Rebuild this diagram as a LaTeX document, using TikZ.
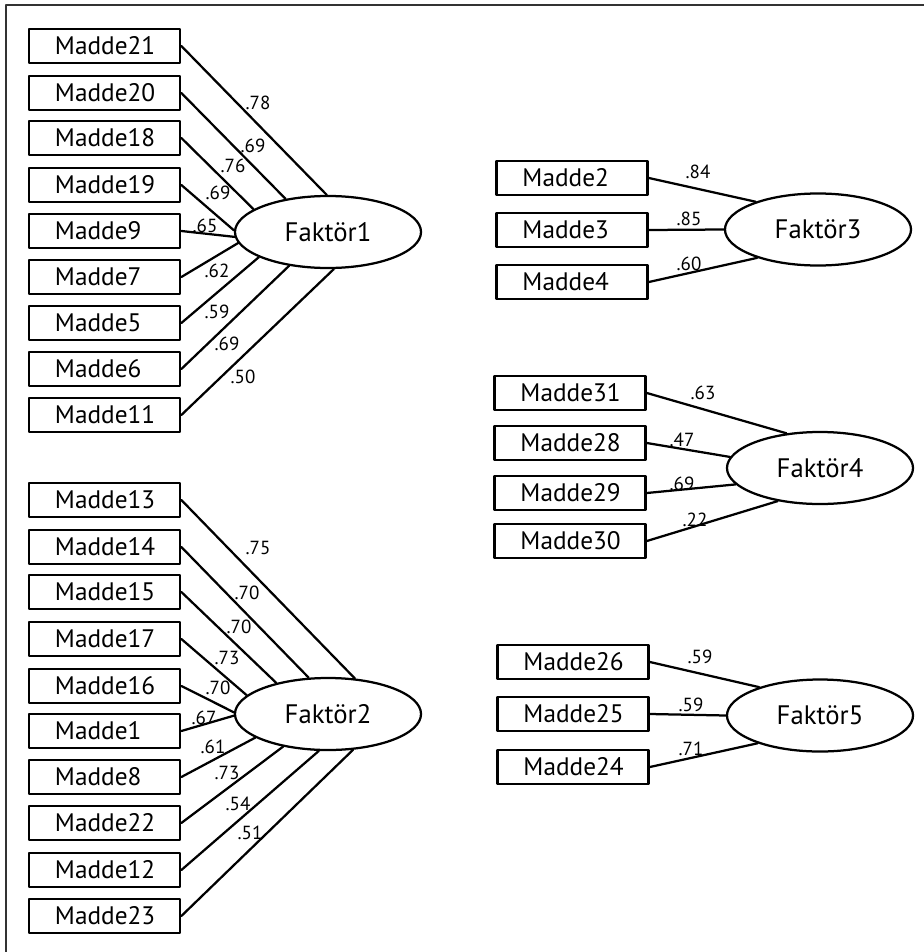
\documentclass[tikz,border=0pt]{standalone}
\usepackage{fontspec}
\setmainfont{PT Sans}
\usetikzlibrary{shapes.geometric}

\begin{document}
\begin{tikzpicture}[x=0.025cm, y=-0.025cm, line join=round, line cap=round,
		madde/.style={draw, line width=1.9pt, minimum height=0.85cm, text width=2.475cm, inner xsep=0.65cm, inner ysep=0pt, align=left, font=\fontsize{18}{20}\selectfont},
		faktor/.style={draw, ellipse, line width=1.6pt, minimum width=4.65cm, minimum height=1.8cm, inner sep=0pt, font=\fontsize{19}{21}\selectfont},
		yuk/.style={inner sep=1pt, font=\fontsize{13.5}{15}\selectfont},
		bag/.style={line width=1.6pt}]
		\useasboundingbox (0,0) rectangle (924,952);
		\draw[line width=0.9pt, black!80] (6,952)--(6,5)--(924,5);
		% faktorler
		\node[faktor] (f1) at (328,232) {Faktör1};
		\node[faktor] (f2) at (328,714) {Faktör2};
		\node[faktor] (f3) at (818,229.5) {Faktör3};
		\node[faktor] (f4) at (820,468) {Faktör4};
		\node[faktor] (f5) at (820,715.5) {Faktör5};
		% maddeler: no/y/aci/yuk/label x/label y
		\foreach \n/\y/\a/\v/\lx/\ly in {21/46/92/.78/258/103, 20/93/142/.69/253/146, 18/138/163/.76/233/166,
			19/185/179/.69/218/193, 9/231/183/.65/205/226, 7/277/187/.62/217/271, 5/323/200/.59/217/312,
			6/369/221/.69/227/344, 11/415/279/.50/243/377}{
			\node[madde] (m\n) at (104.5,\y) {Madde\n};
			\draw[bag] (m\n.east)--(f1.\a);
			\node[yuk] (y\n) at (\lx,\ly) {\v};
		}
		\foreach \n/\y/\a/\v/\lx/\ly in {13/500/53/.75/258/548, 14/547/118/.70/247/593, 15/592/149/.70/239/627,
			17/639/167/.73/227/658, 16/686/179/.70/218/688, 1/731/181/.67/204/718, 8/777/198/.61/213/747,
			22/823/216/.73/227/773, 12/870/256/.54/238/804, 23/916/305/.51/250/833}{
			\node[madde] (m\n) at (104.5,\y) {Madde\n};
			\draw[bag] (m\n.east)--(f2.\a);
			\node[yuk] (y\n) at (\lx,\ly) {\v};
		}
		\foreach \n/\y/\a/\v/\lx/\ly in {2/178/156/.84/698/172, 3/230/180/.85/689/219, 4/282/205/.60/689/264}{
			\node[madde] (m\n) at (572,\y) {Madde\n};
			\draw[bag] (m\n.east)--(f3.\a);
			\node[yuk] (y\n) at (\lx,\ly) {\v};
		}
		\foreach \n/\y/\a/\v/\lx/\ly in {31/393/134/.63/703/393, 28/443/173/.47/682/440, 29/493/191/.69/682/484, 30/541/218/.22/695/520}{
			\node[madde] (m\n) at (570,\y) {Madde\n};
			\draw[bag] (m\n.east)--(f4.\a);
			\node[yuk] (y\n) at (\lx,\ly) {\v};
		}
		\foreach \n/\y/\a/\v/\lx/\ly in {26/662/155/.59/700/657, 25/714/180/.59/691/705, 24/767/204/.71/691/749}{
			\node[madde] (m\n) at (573,\y) {Madde\n};
			\draw[bag] (m\n.east)--(f5.\a);
			\node[yuk] (y\n) at (\lx,\ly) {\v};
		}
	\end{tikzpicture}
\end{document}
